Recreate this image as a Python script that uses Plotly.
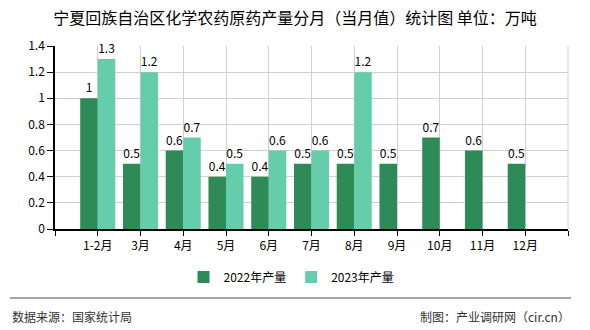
import plotly.graph_objects as go

categories = ["1-2月", "3月", "4月", "5月", "6月", "7月", "8月", "9月", "10月", "11月", "12月"]
values_2022 = [1, 0.5, 0.6, 0.4, 0.4, 0.5, 0.5, 0.5, 0.7, 0.6, 0.5]
values_2023 = [1.3, 1.2, 0.7, 0.5, 0.6, 0.6, 1.2, None, None, None, None]
series_names = ["2022年产量", "2023年产量"]
y_ticks = [0, 0.2, 0.4, 0.6, 0.8, 1, 1.2, 1.4]
y_ticktext = ["0", "0.2", "0.4", "0.6", "0.8", "1", "1.2", "1.4"]

FONT = "Noto Sans CJK SC, SimSun, sans-serif"
W, H = 590, 330
L, R, T, B = 55, 22, 46, 101
plot_h = H - T - B
plot_w = W - L - R

def py(pix):
    return (H - B - pix) / plot_h

def px(pix):
    return (pix - L) / plot_w

xpos = list(range(len(categories)))

def fmt(v):
    return "" if v is None else ("%g" % v)

fig = go.Figure()
fig.add_trace(go.Bar(
    x=xpos, y=values_2022, name=series_names[0],
    marker=dict(color="#2E8B57", line=dict(width=0)),
    text=[fmt(v) for v in values_2022], textposition="outside",
    textfont=dict(size=12, color="#000", family=FONT), cliponaxis=False,
))
fig.add_trace(go.Bar(
    x=xpos, y=values_2023, name=series_names[1],
    marker=dict(color="#66CDAA", line=dict(width=0)),
    text=[fmt(v) for v in values_2023], textposition="outside",
    textfont=dict(size=12, color="#000", family=FONT), cliponaxis=False,
))

fig.update_layout(
    width=W, height=H,
    margin=dict(l=L, r=R, t=T, b=B),
    paper_bgcolor="white", plot_bgcolor="white",
    barmode="group", bargap=0.18, bargroupgap=0,
    font=dict(family=FONT, size=12, color="#000"),
    title=dict(text="宁夏回族自治区化学农药原药产量分月（当月值）统计图 单位：万吨",
               x=0.5, xanchor="center", y=1 - 18 / H, yanchor="middle",
               font=dict(size=16, color="#000", family=FONT)),
    showlegend=True,
    legend=dict(orientation="h", x=0.5 - 20 / plot_w, xanchor="center", y=py(277), yanchor="middle",
                font=dict(size=12, color="#000", family=FONT), itemwidth=30,
                traceorder="normal"),
    xaxis=dict(
        range=[-1, len(categories)],
        tickmode="array",
        tickvals=list(range(-1, len(categories) + 1)),
        ticktext=[""] + categories + [""],
        showgrid=True, gridcolor="#d0d0d0", gridwidth=1,
        showline=True, linecolor="#000", linewidth=1.5,
        ticks="outside", ticklen=5, tickcolor="#000",
        tickfont=dict(size=12, color="#000", family=FONT),
        zeroline=False, fixedrange=True,
    ),
    yaxis=dict(
        range=[0, 1.4],
        tickmode="array", tickvals=y_ticks, ticktext=y_ticktext,
        showgrid=True, gridcolor="#d0d0d0", gridwidth=1,
        showline=True, linecolor="#000", linewidth=1.5,
        ticks="outside", ticklen=6, tickcolor="#000",
        tickfont=dict(size=12, color="#000", family=FONT),
        zeroline=False, fixedrange=True,
    ),
    shapes=[
        dict(type="line", xref="paper", yref="paper",
             x0=px(10), x1=px(571), y0=py(298), y1=py(298),
             line=dict(color="#888", width=1.5)),
        dict(type="line", xref="paper", yref="paper",
             x0=1, x1=1, y0=0, y1=1,
             line=dict(color="#d0d0d0", width=1)),
    ],
    annotations=[
        dict(text="数据来源：国家统计局", xref="paper", yref="paper",
             x=px(10), y=py(316), xanchor="left", yanchor="middle",
             showarrow=False, font=dict(size=12, color="#333", family=FONT)),
        dict(text="制图：产业调研网（cir.cn）", xref="paper", yref="paper",
             x=px(572), y=py(316), xanchor="right", yanchor="middle",
             showarrow=False, font=dict(size=12, color="#333", family=FONT)),
    ],
)

fig.write_html("out.html")
